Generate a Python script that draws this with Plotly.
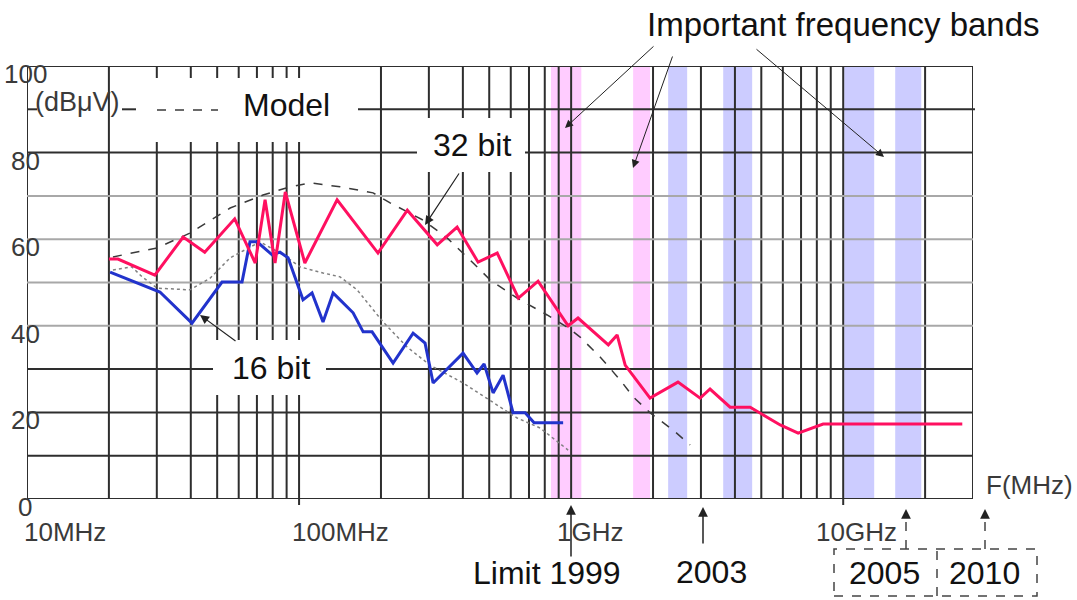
import plotly.graph_objects as go

# ---------------- data ----------------
freq_32bit = [20, 21.6, 29.5, 37.5, 45, 58, 69, 75, 81.6, 89, 105, 138, 195, 250, 322, 381,
              455, 535, 640, 756, 975, 1060, 1370, 1476, 1580, 1950, 2470, 2980, 3240, 3840,
              4550, 5870, 6830, 8440, 27400]
db_32bit = [55.4, 55.4, 51.7, 60.5, 57, 64.7, 54.5, 69.1, 54.5, 70.9, 54.5, 69.1, 56.8, 66.7,
            58.7, 62.8, 54.7, 56.8, 46.4, 50.3, 40, 41.8, 35.6, 37.9, 30.9, 23.3, 27, 23.3,
            25.4, 21.2, 21.2, 17.1, 15.2, 17.3, 17.3]

freq_16bit = [20.2, 30.8, 40.4, 52.1, 61.7, 66, 70.1, 79.6, 85.1, 91.1, 103.4, 111.6, 122.5,
              133.4, 141.5, 158, 172, 185.5, 221.6, 262.5, 290.5, 311, 400.6, 451, 478.7,
              516.7, 562.3, 612, 677.5, 731, 934.6]
db_16bit = [52.4, 47.8, 40.6, 50.1, 50.1, 59.4, 59.4, 56.4, 57, 55.7, 46, 47.6, 40.9, 47.6,
            46, 43, 38.6, 38.6, 31.4, 38.3, 36, 26.8, 33.7, 29.1, 31.2, 24.5, 28.6, 19.9,
            19.9, 17.6, 17.6]

freq_model_32 = [20.7, 30.1, 39.7, 55.8, 73.7, 92.7, 109.8, 141.5, 187.1, 216.1, 285.8, 350.1,
                 425.4, 503.8, 633.3, 816.3, 966.7, 1079, 1278, 1514, 1690, 1952, 2371, 2738]
db_model_32 = [55.9, 58, 61.4, 67.2, 70.2, 72.1, 73, 72.1, 70.7, 68.4, 64.4, 60.3, 55.2, 50.6,
               46.4, 42.5, 39.7, 37.4, 32.8, 27.5, 23.6, 19.9, 15.9, 12.5]

freq_model_16 = [20.7, 24.3, 26.5, 30.1, 39.7, 47.1, 55.8, 66, 71.9, 87.3, 100.9, 122.5, 141.5,
                 163.4, 203.6, 249.5, 303.1, 400.6, 516.7, 633.3, 769, 975]
db_model_16 = [52.9, 53.6, 51.3, 48.7, 48.3, 51, 55.7, 58.2, 59.4, 56.4, 53.6, 52.2, 51.3, 48.3,
               40.9, 35.1, 30.9, 26.8, 22.2, 18.7, 16.4, 11.3]

grid_freqs = [10, 20, 30, 40, 50, 60, 70, 80, 90,
              100, 200, 300, 400, 500, 600, 700, 800, 900,
              1000, 2000, 3000, 4000, 5000, 6000, 7000, 8000, 9000,
              10000, 20000, 30000]
grid_dark_db = [0, 10, 20, 30, 80, 100]
grid_light_db = [40, 50, 60, 70]

pink_bands = [(843, 1090), (1690, 1950)]
blue_bands = [(2273, 2670), (3622, 4628), (10085, 13000), (15530, 19360)]

x_tick_text = ["10MHz", "100MHz", "1GHz", "10GHz"]
y_tick_text = ["0", "20", "40", "60", "80", "100"]
y_tick_vals = [0, 20, 40, 60, 80, 100]

# ---------------- layout helpers (pixel -> paper) ----------------
L, R, T, B = 27, 104, 66, 101
W, H = 1077, 600
PW, PH = W - L - R, H - T - B


def px(x):
    return (x - L) / PW


def py(y):
    return (H - B - y) / PH


FONT = "Liberation Sans, Arial, sans-serif"
DARK = "#2e2e2e"
LIGHT = "#a8a8a8"

fig = go.Figure()

fig.add_trace(go.Scatter(x=freq_model_16, y=db_model_16, mode="lines",
                         line=dict(color="#808080", width=1.5, dash="dot")))
fig.add_trace(go.Scatter(x=freq_model_32, y=db_model_32, mode="lines",
                         line=dict(color="#3a3a3a", width=1.5, dash="dash")))
fig.add_trace(go.Scatter(x=freq_16bit, y=db_16bit, mode="lines",
                         line=dict(color="#2233cc", width=3)))
fig.add_trace(go.Scatter(x=freq_32bit, y=db_32bit, mode="lines",
                         line=dict(color="#ff1060", width=3)))

shapes = []
# frequency bands
for f0, f1 in pink_bands:
    shapes.append(dict(type="rect", xref="x", yref="paper", x0=f0, x1=f1, y0=0, y1=1,
                       fillcolor="#ffccff", line=dict(width=0), layer="below"))
for f0, f1 in blue_bands:
    shapes.append(dict(type="rect", xref="x", yref="paper", x0=f0, x1=f1, y0=0, y1=1,
                       fillcolor="#ccccff", line=dict(width=0), layer="below"))
# vertical grid
for f in grid_freqs:
    shapes.append(dict(type="line", xref="x", yref="paper", x0=f, x1=f, y0=0, y1=1,
                       line=dict(color=DARK, width=2), layer="below"))
# horizontal grid
for v in grid_light_db:
    shapes.append(dict(type="line", xref="paper", yref="y", x0=0, x1=1, y0=v, y1=v,
                       line=dict(color=LIGHT, width=2), layer="below"))
for v in grid_dark_db:
    shapes.append(dict(type="line", xref="paper", yref="y", x0=0, x1=1, y0=v, y1=v,
                       line=dict(color=DARK, width=2), layer="below"))
# 90 dB line, interrupted by the legend text
for a, b in [(27, 37), (122, 136), (358, 975)]:
    shapes.append(dict(type="line", xref="paper", yref="y", x0=px(a), x1=px(b), y0=90, y1=90,
                       line=dict(color=DARK, width=2), layer="below"))
# white label boxes
for x0, y0, x1, y1 in [(140, 78, 345, 142), (417, 118, 525, 172), (213, 340, 326, 395)]:
    shapes.append(dict(type="rect", xref="paper", yref="paper", x0=px(x0), x1=px(x1),
                       y0=py(y1), y1=py(y0), fillcolor="white", line=dict(width=0), layer="below"))
# legend sample line
shapes.append(dict(type="line", xref="paper", yref="paper", x0=px(157), x1=px(218),
                   y0=py(110), y1=py(110), line=dict(color="#3a3a3a", width=1.5, dash="dash")))
# small ticks below axis
for f in [100, 10000]:
    shapes.append(dict(type="line", xref="x", yref="paper", x0=f, x1=f, y0=py(499), y1=py(505),
                       line=dict(color=DARK, width=2)))
# dashed year box and dashed arrows
dash_line = dict(color="#444444", width=1.5, dash="dash")
shapes.append(dict(type="rect", xref="paper", yref="paper", x0=px(834), x1=px(1037),
                   y0=py(596), y1=py(549), line=dash_line))
shapes.append(dict(type="line", xref="paper", yref="paper", x0=px(937), x1=px(937),
                   y0=py(596), y1=py(549), line=dash_line))
for xx in [906, 985]:
    shapes.append(dict(type="line", xref="paper", yref="paper", x0=px(xx), x1=px(xx),
                       y0=py(549), y1=py(514), line=dash_line))

ann = []


def text(t, x, y, size=32, color="#111111", xanchor="center"):
    ann.append(dict(text=t, xref="paper", yref="paper", x=px(x), y=py(y), showarrow=False,
                    xanchor=xanchor, yanchor="middle", font=dict(family=FONT, size=size, color=color)))


def arrow(hx, hy, tx, ty, width=1.2, color="#222222", head=2, size=1.0):
    ann.append(dict(text="", xref="paper", yref="paper", x=px(hx), y=py(hy), ax=tx - hx, ay=ty - hy,
                    axref="pixel", ayref="pixel", showarrow=True, arrowhead=head, arrowsize=size,
                    arrowwidth=width, arrowcolor=color))


# y tick labels
for v, t in zip(y_tick_vals, y_tick_text):
    ypix = (H - B) - v * PH / 100
    text(t, 25, ypix + 8, size=26, color="#3a3a3a")
# x tick labels
for t, xc in zip(x_tick_text, [65, 340, 590, 856]):
    text(t, xc, 532, size=26, color="#3a3a3a")

text("(dB\u03bcV)", 77, 102, size=27, color="#3a3a3a")
text("Model", 286, 105)
text("32 bit", 472, 145)
text("16 bit", 271, 368)
text("F(MHz)", 1029, 485, size=26, color="#3a3a3a")
text("Important frequency bands", 843, 24, size=33)
text("Limit 1999", 547, 573)
text("2003", 711, 572)
text("2005", 884, 573)
text("2010", 985, 573)

arrow(425, 225, 460, 172, size=1.5)
arrow(200, 315, 237, 342, size=1.5)
arrow(565, 128, 655, 45, width=1, size=1.6)
arrow(633, 168, 673, 55, width=1, size=1.6)
arrow(884, 157, 755, 48, width=1, size=1.6)
arrow(571, 505, 571, 558, width=1.5, size=1.3)
arrow(703, 507, 703, 545, width=1.5, size=1.3)
arrow(906, 509, 906, 518, width=1.5, size=1.3)
arrow(985, 509, 985, 518, width=1.5, size=1.3)

fig.update_layout(
    width=W, height=H, margin=dict(l=L, r=R, t=T, b=B),
    paper_bgcolor="white", plot_bgcolor="white", showlegend=False,
    shapes=shapes, annotations=ann,
    xaxis=dict(type="log", range=[1, 4.4771], showgrid=False, zeroline=False,
               showticklabels=False, showline=False, ticks=""),
    yaxis=dict(range=[0, 100], showgrid=False, zeroline=False, showticklabels=False,
               showline=False, ticks=""),
)

fig.write_html("out.html")
